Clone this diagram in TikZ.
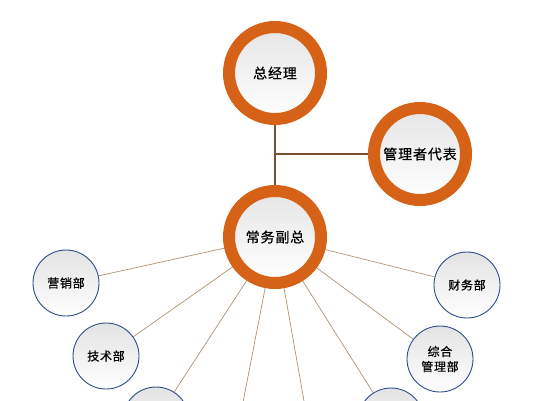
\documentclass[tikz,border=0pt]{standalone}
\usepackage{fontspec}
\newfontfamily\cjk[LetterSpace=6,FakeBold=0.6]{Noto Sans CJK SC}
\usetikzlibrary{backgrounds}

\definecolor{ringorange}{RGB}{214,98,24}
\definecolor{rimblue}{RGB}{48,78,135}
\definecolor{linkbrown}{RGB}{176,146,112}
\definecolor{stembrown}{RGB}{120,82,45}

\begin{document}
\begin{tikzpicture}[
    x=1pt, y=-1pt,
    bigring/.style={circle, draw=ringorange, line width=12pt, minimum size=92pt,
        inner sep=0pt, top color=gray!20, bottom color=white,
        font=\cjk\fontsize{14}{16}\selectfont},
    smallball/.style={circle, draw=rimblue, line width=0.9pt, minimum size=66pt,
        inner sep=0pt, top color=gray!22, bottom color=white, align=center,
        font=\cjk\fontsize{12}{15}\selectfont},
    link/.style={draw=linkbrown, line width=0.7pt}]

    \useasboundingbox (0,0) rectangle (534,400);

    % the three big ringed nodes
    \node[bigring] at (275,73) (gm) {总经理};
    \node[bigring] at (420,154) (rep) {管理者代表};
    \node[bigring] at (275,237) (vp) {常务副总};

    % departments round the deputy
    \node[smallball] at (66,283) (sales) {营销部};
    \node[smallball] at (106,356) (tech) {技术部};
    \node[smallball] at (156,420) (botl) {};
    \node[smallball] at (467,285) (fin) {财务部};
    \node[smallball] at (440,359) (admin) {综合\\管理部};
    \node[smallball] at (391,421) (botr) {};

    % two lines leave the picture at the bottom
    \coordinate (offl) at (228,480);
    \coordinate (offr) at (318,480);

    \begin{scope}[on background layer]
        % stem from general manager down to deputy, branch to the representative
        \draw [draw=stembrown, line width=1.3pt] (gm) -- (vp);
        \draw [draw=stembrown, line width=1.3pt] (rep.west) -- (rep.west -| gm);

        % spokes from the deputy
        \foreach \d in {sales, tech, botl, offl, offr, botr, admin, fin}
            \draw [link] (vp.center) -- (\d);
    \end{scope}

\end{tikzpicture}
\end{document}
